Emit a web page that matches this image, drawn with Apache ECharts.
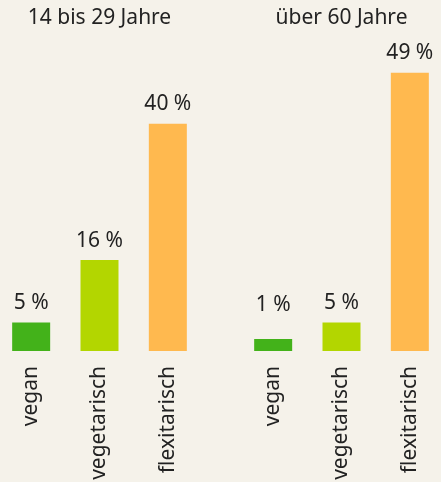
<!DOCTYPE html>
<html>
<head>
<meta charset="utf-8">
<script src="https://cdn.jsdelivr.net/npm/echarts@6/dist/echarts.min.js"></script>
<style>
html,body{margin:0;padding:0;background:#f5f2ea;}
#c{width:441px;height:482px;}
</style>
</head>
<body>
<div id="c"></div>
<script>
const groups = ['14 bis 29 Jahre', 'über 60 Jahre'];
const categories = ['vegan', 'vegetarisch', 'flexitarisch'];
const valuesYoung = [5, 16, 40];
const valuesOld = [1, 5, 49];
const colors = ['#43b21a', '#b3d600', '#ffb94f'];

const font = '"Noto Sans", "Open Sans", sans-serif';
const textColor = '#222222';
const gridPos = [{left: -3, width: 205}, {left: 239, width: 205}];
const allValues = [valuesYoung, valuesOld];

const option = {
  backgroundColor: '#f5f2ea',
  animation: false,
  title: groups.map((g, i) => ({
    text: g,
    left: gridPos[i].left + gridPos[i].width / 2,
    top: 8,
    padding: 0,
    textAlign: 'center',
    textStyle: {fontFamily: font, fontSize: 21, fontWeight: 'normal', color: textColor}
  })),
  grid: gridPos.map(p => ({left: p.left, width: p.width, top: 67, bottom: 131, outerBoundsMode: 'none', containLabel: false})),
  xAxis: gridPos.map((p, i) => ({
    type: 'category',
    gridIndex: i,
    data: categories,
    axisLine: {show: false},
    axisTick: {show: false},
    axisLabel: {
      rotate: 90,
      margin: 15,
      interval: 0,
      fontFamily: font,
      fontSize: 21,
      color: textColor
    }
  })),
  yAxis: gridPos.map((p, i) => ({
    type: 'value',
    gridIndex: i,
    min: 0,
    max: 50,
    show: false,
    splitLine: {show: false}
  })),
  series: allValues.map((vals, gi) => ({
    type: 'bar',
    xAxisIndex: gi,
    yAxisIndex: gi,
    barWidth: 38,
    barMinHeight: 12,
    data: vals.map((v, i) => {
      const item = {value: v, itemStyle: {color: colors[i]}};
      if (v < 2) item.label = {distance: 23};
      return item;
    }),
    label: {
      show: true,
      position: 'top',
      distance: 9,
      formatter: p => p.value + ' %',
      fontFamily: font,
      fontSize: 21,
      color: textColor
    }
  }))
};

const chart = echarts.init(document.getElementById('c'), null, {renderer: 'canvas'});
chart.setOption(option);
</script>
</body>
</html>
